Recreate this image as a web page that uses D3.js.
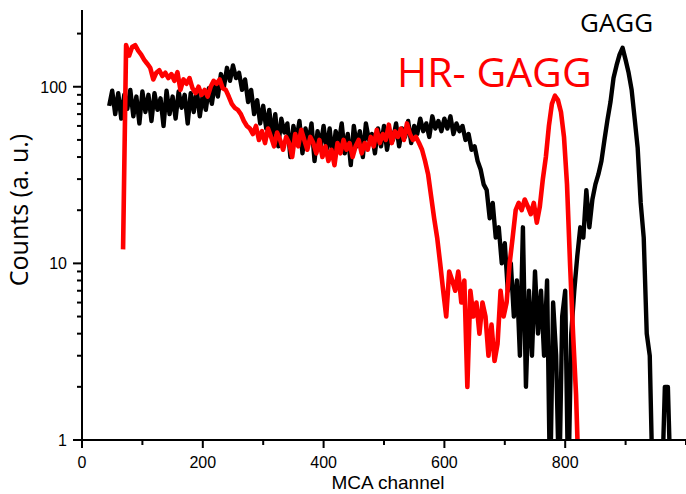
<!DOCTYPE html>
<html>
<head>
<meta charset="utf-8">
<script src="https://cdn.jsdelivr.net/npm/d3@7"></script>
<style>
  body { margin: 0; background: #fff; }
  svg { display: block; }
</style>
</head>
<body>
<div id="chart"></div>
<script>
// channel grid for each spectrum (start channel, step 5)
const gaggStart = 45;
const hrStart = 68;
const channelStep = 5;

// GAGG counts, ch 45..1000
const gaggCounts = [
  78, 95, 70, 92, 66, 90, 75, 96, 68, 88, 62, 94, 72, 90, 64, 92, 74, 86, 60, 95,
  70, 88, 66, 94, 76, 90, 62, 92, 72, 96, 68, 90, 74, 98, 80,
  105, 88, 118, 100, 128, 108, 132, 112, 120, 96, 110, 82, 96, 70, 84, 62, 78,
  58, 74, 52, 70, 46, 66, 55, 62, 40, 60, 50, 64, 42, 58, 48, 62, 38, 56, 46, 60,
  44, 58, 40, 56, 48, 62, 42, 54, 36, 60, 46, 56, 40, 62, 50, 54, 42, 58, 46, 60,
  44, 56, 50, 62, 46, 58, 52, 64, 48, 60, 54, 66, 56, 62, 52, 68, 58, 64, 56, 66,
  58, 68, 54, 62, 56, 60, 50, 54, 44, 46, 38, 34, 28, 26, 18, 22, 14, 16, 10, 13,
  7, 10, 5, 8, 3, 16, 2, 7, 3, 9, 4, 7, 3, 8, 0, 6, 3, 0, 5, 7,
  0, 4, 7, 11, 16, 14, 26, 16, 23, 28, 32, 38, 50, 65, 82, 112, 132, 152, 166, 142,
  120, 96, 66, 45, 22, 14, 4, 3, 0, 0, 0, 0, 2, 2, 0, 0, 0, 0, 0, 0
];

// HR-GAGG counts, ch 68..823
const hrCounts = [
  12, 172, 150, 168, 172, 160, 152, 142, 135, 128, 110, 120, 124, 115, 120, 112, 118, 108, 121, 96,
  110, 104, 112, 98, 92, 100, 90, 96, 88, 100, 108, 104, 110, 98, 96, 88, 80, 76, 74, 70,
  64, 60, 58, 54, 60, 50, 56, 48, 58, 52, 46, 55, 50, 44, 52, 48, 40, 54, 46, 57,
  50, 44, 52, 48, 42, 50, 40, 46, 38, 44, 36, 48, 42, 50, 44, 48, 40, 46, 50, 42,
  48, 44, 52, 46, 57, 48, 54, 50, 61, 48, 56, 52, 58, 50, 62, 54, 50, 52, 48, 44,
  38, 32, 24, 18, 14, 10, 7, 5, 9, 8, 7, 9, 6, 8, 2, 7, 5, 6, 4, 6,
  5, 3, 4.5, 2.8, 3.5, 7, 5, 6, 10, 14, 20, 22, 20, 23, 21, 19, 22, 17, 21, 30,
  40, 60, 80, 89, 84, 72, 52, 28, 10, 4, 1.8, 0
];

const xMajor = [0, 200, 400, 600, 800];
const xMinor = [100, 300, 500, 700, 900, 1000];
const yMajor = [1, 10, 100];
const yMinor = [2, 3, 4, 5, 6, 7, 8, 9, 20, 30, 40, 50, 60, 70, 80, 90, 200];

const W = 686, H = 494;
const m = { left: 82, top: 10, right: 0, bottom: 54 };

const svg = d3.select('#chart').append('svg')
  .attr('width', W).attr('height', H);

const x = d3.scaleLinear().domain([0, 1000]).range([m.left, W - m.right]);
const y = d3.scaleLog().domain([1, 272]).range([H - m.bottom, m.top]);
const x0 = m.left, y0 = H - m.bottom;

svg.append('defs').append('clipPath').attr('id', 'plot')
  .append('rect')
  .attr('x', m.left).attr('y', m.top)
  .attr('width', W - m.right - m.left).attr('height', H - m.bottom - m.top);

const toPoints = (start, counts) => counts.map((c, i) => [start + i * channelStep, c]);

const line = d3.line()
  .x(d => x(d[0]))
  .y(d => d[1] > 0 ? y(d[1]) : y(0.5));

const lines = svg.append('g').attr('clip-path', 'url(#plot)');
lines.append('path')
  .attr('d', line(toPoints(gaggStart, gaggCounts)))
  .attr('fill', 'none').attr('stroke', '#000')
  .attr('stroke-width', 4.4).attr('stroke-linejoin', 'round');
lines.append('path')
  .attr('d', line(toPoints(hrStart, hrCounts)))
  .attr('fill', 'none').attr('stroke', '#ff0000')
  .attr('stroke-width', 4.6).attr('stroke-linejoin', 'round');

// tick marks (drawn as thin rects so they render crisply)
svg.append('g').selectAll('rect')
  .data(xMajor.map(v => [v, 8]).concat(xMinor.map(v => [v, 5])))
  .join('rect')
  .attr('x', d => x(d[0]) - 1).attr('y', y0)
  .attr('width', 2).attr('height', d => d[1])
  .attr('fill', '#000');
svg.append('g').selectAll('rect')
  .data(yMajor.map(v => [v, 9]).concat(yMinor.map(v => [v, 5])))
  .join('rect')
  .attr('x', d => x0 - d[1]).attr('y', d => y(d[0]) - 1)
  .attr('width', d => d[1]).attr('height', 2)
  .attr('fill', '#000');

// axis lines
svg.append('rect')
  .attr('x', x0).attr('y', y0 - 1).attr('width', W - x0).attr('height', 2)
  .attr('fill', '#000');
svg.append('rect')
  .attr('x', x0 - 1).attr('y', m.top).attr('width', 2).attr('height', y0 - m.top + 1)
  .attr('fill', '#000');

// tick labels
const tickFont = '16px "Liberation Sans", Arial, sans-serif';
svg.append('g').selectAll('text')
  .data(xMajor)
  .join('text')
  .attr('x', d => x(d)).attr('y', y0 + 28)
  .attr('text-anchor', 'middle')
  .style('font', tickFont)
  .text(d3.format('d'));
svg.append('g').selectAll('text')
  .data(yMajor)
  .join('text')
  .attr('x', x0 - 15).attr('y', d => y(d)).attr('dy', '0.36em')
  .attr('text-anchor', 'end')
  .style('font', tickFont)
  .text(d3.format('d'));

// axis titles
svg.append('text')
  .attr('x', 388).attr('y', 489)
  .attr('text-anchor', 'middle')
  .style('font', '19px "Liberation Sans", Arial, sans-serif')
  .text('MCA channel');

svg.append('text')
  .attr('transform', 'translate(28,210) rotate(-90)')
  .attr('text-anchor', 'middle')
  .style('font', '25px "Open Sans", sans-serif')
  .text('Counts  (a. u.)');

// series labels
svg.append('text')
  .attr('x', 580).attr('y', 32)
  .attr('fill', '#000')
  .style('font', '26px "Open Sans", sans-serif')
  .text('GAGG');

svg.append('text')
  .attr('x', 397).attr('y', 87)
  .attr('fill', '#ff0000')
  .style('font', '41px "Open Sans", sans-serif')
  .text('HR- GAGG');
</script>
</body>
</html>
